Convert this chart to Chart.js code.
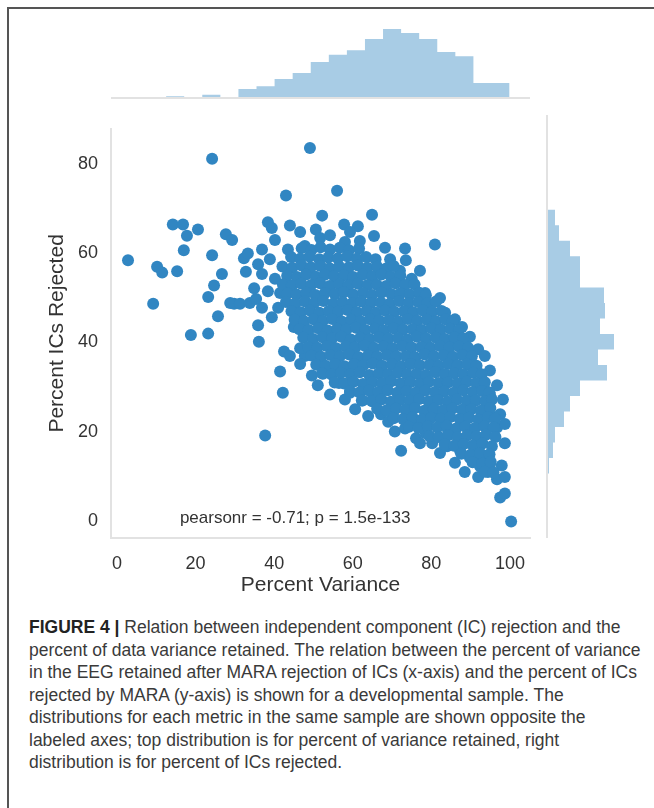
<!DOCTYPE html>
<html>
<head>
<meta charset="utf-8">
<script src="https://cdn.jsdelivr.net/npm/chart.js@4.4.1/dist/chart.umd.min.js"></script>
<style>
  html, body { margin: 0; padding: 0; background: #fff; }
  body { width: 654px; height: 808px; position: relative; overflow: hidden; font-family: 'Liberation Sans', Arial, sans-serif; }
  .frame { position: absolute; left: 7px; top: 7px; width: 660px; height: 820px; border-left: 2px solid #555; border-top: 2px solid #555; }
  canvas { position: absolute; }
  #caption { position: absolute; left: 29px; top: 616px; font-size: 17.5px; line-height: 22.5px; color: #3a3a3a; white-space: nowrap; }
  #caption b { color: #222; }
</style>
</head>
<body>
<div class="frame"></div>
<canvas id="topHist" width="419" height="85" style="left:111px;top:14px;width:419px;height:85px"></canvas>
<canvas id="scatter" width="545" height="500" style="left:0px;top:105px;width:545px;height:500px"></canvas>
<canvas id="rightHist" width="85" height="423" style="left:546px;top:115px;width:85px;height:423px"></canvas>
<div id="caption">
<b>FIGURE 4 |</b> Relation between independent component (IC) rejection and the<br>
percent of data variance retained. The relation between the percent of variance<br>
in the EEG retained after MARA rejection of ICs (x-axis) and the percent of ICs<br>
rejected by MARA (y-axis) is shown for a developmental sample. The<br>
distributions for each metric in the same sample are shown opposite the<br>
labeled axes; top distribution is for percent of variance retained, right<br>
distribution is for percent of ICs rejected.
</div>
<script>
// top histogram: percent variance retained (bin edges / heights)
const varianceEdges = [3.3, 7.9, 12.5, 17.1, 21.7, 26.3, 30.9, 35.5, 40.1, 44.7, 49.3,
  53.9, 58.5, 63.1, 67.7, 72.3, 76.9, 81.5, 86.1, 90.7, 95.3, 99.9];
const varianceCounts = [0.5, 1.3, 2.7, 1.0, 4.3, 2.0, 10, 12.7, 20, 26, 37,
  44.3, 48.7, 60, 70, 66, 60, 47, 42.7, 16, 16];

// right histogram: percent ICs rejected
const rejectedEdges = [0, 3.37, 6.74, 10.11, 13.48, 16.85, 20.22, 23.59, 26.96, 30.33,
  33.7, 37.07, 40.44, 43.81, 47.18, 50.55, 53.92, 57.29, 60.66, 64.03,
  67.4, 70.77, 74.14, 77.51, 80.88, 84.25];
const rejectedCounts = [0.6, 1, 1, 3, 7, 9, 18, 24, 34, 61,
  52, 68, 54, 59, 58, 34, 34, 24, 13, 9,
  0.8, 0.8, 0.5, 0.6, 0.8];

const xTicks = [0, 20, 40, 60, 80, 100];
const yTicks = [0, 20, 40, 60, 80];

// scattered points around the cloud
const outlierPoints = [
  [2.8,58.5],[9.2,48.7],[10.2,57],[11.5,55.7],[15.3,56],[14.2,66.5],[16.8,66.5],[17.8,64],
  [17,60.7],[20.6,65.4],[18.8,41.7],[23.2,42],[24.2,81.3],[24.2,59.6],[23.2,50.2],[24.7,52.8],
  [25.7,45.9],[26.7,55.4],[27.7,64.3],[29.3,63],[29.8,48.7],[28.8,48.9],[31.3,48.7],[32.3,58.9],
  [33.3,60],[33.8,48.9],[35.9,43.9],[36.1,40.2],[35.4,49.8],[34.9,52.2],[35.9,57.6],[36.9,60.9],
  [37.7,19.1],[38.4,67],[39.4,65.7],[40.2,63],[41.5,33.5],[42.2,28.7],[43,73],[42.5,38],
  [49.1,83.7],[50.6,65.4],[56,74.1],[57.8,66.5],[61.3,66.1],[64.9,68.7],[61.8,62.8],[65.4,63.9],
  [52.2,68.5],[73.3,61.1],[73.5,58.5],[80.9,62],[72.3,15.7],[75,22.2],[78.4,32.4],[81.2,24.1],
  [84.2,20.4],[86,40.9],[88.5,40],[91.9,38.5],[91.3,34.1],[93.4,29.8],[94.9,28.3],[95.7,23.3],
  [96.7,20.9],[98.7,17.4],[97.9,12.4],[96.7,9.3],[98.7,9.8],[97.5,5.2],[98.7,6.1],[100.3,-0.2],
  [94.9,12.6],[92.4,12.2],[89.8,14.1],[93.2,14.6],[87.3,15.7],[84,16.7],[80.2,17.4],[78.6,19.6],
  [76.1,18.5],[70.2,23.9],[67.2,23.9],[65.1,27.4],[62.3,27],[59.3,28.7],[56.5,30.9],[55,34.3],
  [52.4,33],[49.6,32.6],[47.8,37],[46.6,38.7],[45,43.5]
];

// edge of the dense cloud
const fringePoints = [
  [32.8,55.9],[36.9,55.4],[38.9,58.7],[38.4,51.5],[40.2,54.3],[41,47.8],[43.5,60.9],[41.5,51.1],
  [36.9,47.8],[39.4,45.7],[44,66.3],[46.6,64.8],[47.8,61.7],[51.7,63.5],[54.2,64.1],[58,62.6],
  [59.3,64.8],[68.2,61.3],[69.5,58.7],[72,56.1],[75,54.3],[77.1,56.1],[78.4,51.1],[82.2,50],
  [83.5,46.7],[86,45.2],[87.8,43.5],[89.8,41.3],[93.6,37],[94.9,33.7],[96.7,30.4],[98.2,27.2],
  [97.5,23.9],[98.7,21.7],[46.6,35.2],[44,37],[51.1,30.4],[54.2,28.3],[58,27.2],[60.6,25],
  [63.9,23.5],[69,22.2],[70.7,20],[73.3,20.7],[77.1,17.4],[82.2,15.2],[86,13],[88.5,10.9],
  [91.9,9.8],[94.4,10.9],[91.9,13]
];

// dense core, read row by row from the top
const corePoints = [
  [47.0,61.2],[49.5,60.8],[51.8,61.4],[54.2,60.9],[56.7,61.3],[59.0,60.7],[61.6,61.1],
  [44.3,59.2],[46.6,58.8],[49.0,59.3],[51.5,58.7],[53.8,59.1],[56.2,58.9],[58.6,59.4],[61.0,58.8],[63.4,59.2],[65.8,58.7],
  [42.1,57.1],[44.6,56.8],[47.0,57.3],[49.3,56.9],[51.8,57.2],[54.1,56.7],[56.5,57.1],[59.0,56.9],[61.3,57.3],[63.7,56.8],[66.2,57.0],[68.5,56.6],[70.4,57.2],
  [43.3,55.0],[45.8,54.7],[48.1,55.3],[50.6,54.8],[52.9,55.2],[55.3,54.9],[57.8,55.1],[60.1,54.7],[62.5,55.2],[64.9,54.9],[67.3,55.3],[69.7,54.8],[72.1,55.0],
  [42.2,53.1],[44.5,52.8],[46.9,53.2],[49.4,52.9],[51.7,53.3],[54.1,52.7],[56.6,53.1],[58.9,52.8],[61.3,53.2],[63.8,52.9],[66.1,53.0],[68.5,52.7],[70.9,53.3],[73.3,52.9],[75.7,53.1],
  [43.4,51.0],[45.7,50.8],[48.2,51.2],[50.5,50.7],[52.9,51.1],[55.4,50.9],[57.7,51.3],[60.1,50.8],[62.6,51.1],[64.9,50.7],[67.3,51.2],[69.8,50.9],[72.1,51.0],[74.5,50.8],[76.9,51.2],[78.6,50.6],
  [43.0,49.1],[45.4,48.8],[47.9,49.2],[50.2,48.9],[52.5,49.3],[55.0,48.7],[57.4,49.1],[59.9,48.8],[62.2,49.2],[64.6,48.9],[67.1,49.0],[69.4,48.7],[71.8,49.3],[74.2,48.9],[76.7,49.1],[79.0,48.8],[81.2,49.2],
  [44.4,47.0],[46.8,46.8],[49.1,47.2],[51.5,46.7],[53.9,47.1],[56.3,46.9],[58.7,47.3],[61.1,46.8],[63.5,47.1],[65.9,46.7],[68.2,47.2],[70.6,46.9],[73.0,47.0],[75.4,46.8],[77.8,47.2],[80.2,46.9],[82.6,47.1],
  [45.2,45.1],[47.6,44.8],[50.0,45.2],[52.4,44.9],[54.8,45.3],[57.2,44.7],[59.6,45.1],[62.0,44.8],[64.4,45.2],[66.8,44.9],[69.2,45.0],[71.6,44.7],[74.0,45.3],[76.4,44.9],[78.8,45.1],[81.2,44.8],[83.6,45.2],[85.4,44.9],
  [46.4,43.0],[48.8,42.8],[51.2,43.2],[53.6,42.7],[56.0,43.1],[58.4,42.9],[60.8,43.3],[63.2,42.8],[65.6,43.1],[68.0,42.7],[70.4,43.2],[72.8,42.9],[75.2,43.0],[77.6,42.8],[80.0,43.2],[82.4,42.9],[84.8,43.1],[87.0,42.8],
  [47.4,41.1],[49.9,40.8],[52.3,41.2],[54.7,40.9],[57.1,41.3],[59.5,40.7],[61.9,41.1],[64.3,40.8],[66.7,41.2],[69.1,40.9],[71.5,41.0],[73.9,40.7],[76.3,41.3],[78.7,40.9],[81.1,41.1],[83.5,40.8],[85.9,41.2],[88.1,40.9],
  [48.6,39.0],[51.0,38.8],[53.4,39.2],[55.8,38.7],[58.2,39.1],[60.6,38.9],[63.0,39.3],[65.4,38.8],[67.8,39.1],[70.2,38.7],[72.6,39.2],[75.0,38.9],[77.4,39.0],[79.8,38.8],[82.2,39.2],[84.6,38.9],[87.0,39.1],[89.4,38.8],
  [49.5,37.1],[51.9,36.8],[54.3,37.2],[56.7,36.9],[59.1,37.3],[61.5,36.7],[63.9,37.1],[66.3,36.8],[68.7,37.2],[71.1,36.9],[73.5,37.0],[75.9,36.7],[78.3,37.3],[80.7,36.9],[83.1,37.1],[85.5,36.8],[87.9,37.2],[90.3,36.9],
  [50.7,35.0],[53.1,34.8],[55.5,35.2],[57.9,34.7],[60.3,35.1],[62.7,34.9],[65.1,35.3],[67.5,34.8],[69.9,35.1],[72.3,34.7],[74.7,35.2],[77.1,34.9],[79.5,35.0],[81.9,34.8],[84.3,35.2],[86.7,34.9],[89.1,35.1],[91.5,34.8],
  [52.2,33.1],[54.6,32.8],[57.0,33.2],[59.4,32.9],[61.8,33.3],[64.2,32.7],[66.6,33.1],[69.0,32.8],[71.4,33.2],[73.8,32.9],[76.2,33.0],[78.6,32.7],[81.0,33.3],[83.4,32.9],[85.8,33.1],[88.2,32.8],[90.6,33.2],[92.8,32.9],
  [55.4,31.0],[57.8,30.8],[60.2,31.2],[62.6,30.7],[65.0,31.1],[67.4,30.9],[69.8,31.3],[72.2,30.8],[74.6,31.1],[77.0,30.7],[79.4,31.2],[81.8,30.9],[84.2,31.0],[86.6,30.8],[89.0,31.2],[91.4,30.9],[93.6,31.1],
  [59.3,29.1],[61.7,28.8],[64.1,29.2],[66.5,28.9],[68.9,29.3],[71.3,28.7],[73.7,29.1],[76.1,28.8],[78.5,29.2],[80.9,28.9],[83.3,29.0],[85.7,28.7],[88.1,29.3],[90.5,28.9],[92.9,29.1],[94.8,28.8],
  [62.5,27.0],[64.9,26.8],[67.3,27.2],[69.7,26.7],[72.1,27.1],[74.5,26.9],[76.9,27.3],[79.3,26.8],[81.7,27.1],[84.1,26.7],[86.5,27.2],[88.9,26.9],[91.3,27.0],[93.7,26.8],[95.4,27.2],
  [66.2,25.1],[68.6,24.8],[71.0,25.2],[73.4,24.9],[75.8,25.3],[78.2,24.7],[80.6,25.1],[83.0,24.8],[85.4,25.2],[87.8,24.9],[90.2,25.0],[92.6,24.7],[95.0,25.3],
  [70.4,23.0],[72.8,22.8],[75.2,23.2],[77.6,22.7],[80.0,23.1],[82.4,22.9],[84.8,23.3],[87.2,22.8],[89.6,23.1],[92.0,22.7],[94.4,23.2],[96.2,22.9],
  [74.3,21.1],[76.7,20.8],[79.1,21.2],[81.5,20.9],[83.9,21.3],[86.3,20.7],[88.7,21.1],[91.1,20.8],[93.5,21.2],[95.9,20.9],
  [79.5,19.0],[81.9,18.8],[84.3,19.2],[86.7,18.7],[89.1,19.1],[91.5,18.9],[93.9,19.3],[96.3,18.8],
  [83.4,17.1],[85.8,16.8],[88.2,17.2],[90.6,16.9],[93.0,17.3],[95.4,16.7],
  [87.6,15.0],[90.0,14.8],[92.4,15.2],[94.8,14.9],
  [90.5,13.1],[92.9,12.8],[95.1,13.2],
  [93.6,11.0],[95.8,10.8]
];

const annotation = 'pearsonr = -0.71; p = 1.5e-133';

const FONT = "'Liberation Sans', Arial, sans-serif";
const TEXT = '#333';
const DOT = '#3186c2';
const HIST = '#a8cce5';
const SPINE = '#e2e2e2';
const X_RANGE = [-1.53, 105.1];
const Y_RANGE = [-3.9, 88];

Chart.defaults.font.family = FONT;
Chart.defaults.color = TEXT;
Chart.defaults.animation = false;

// light spine for the marginal plots
const spinePlugin = {
  id: 'spine',
  afterDatasetsDraw(chart, args, opts) {
    const { ctx, chartArea: a } = chart;
    ctx.save();
    ctx.strokeStyle = SPINE;
    ctx.lineWidth = 2;
    ctx.beginPath();
    if (opts.side === 'bottom') {
      ctx.moveTo(a.left, a.bottom - 1);
      ctx.lineTo(a.right, a.bottom - 1);
    } else {
      ctx.moveTo(a.left + 1, a.top);
      ctx.lineTo(a.left + 1, a.bottom);
    }
    ctx.stroke();
    ctx.restore();
  }
};

// pearsonr text, placed in data units
const notePlugin = {
  id: 'note',
  afterDraw(chart, args, opts) {
    const { ctx, scales } = chart;
    ctx.save();
    ctx.font = '17px ' + FONT;
    ctx.fillStyle = TEXT;
    ctx.textAlign = 'left';
    ctx.textBaseline = 'middle';
    ctx.fillText(opts.text, scales.x.getPixelForValue(opts.x), scales.y.getPixelForValue(opts.y));
    ctx.restore();
  }
};

const hidden = { display: false, type: 'linear' };
const histStyle = { backgroundColor: HIST, borderColor: HIST, borderWidth: 0, pointRadius: 0, fill: 'origin' };

// histogram outline as step points: each edge carries the height of the bin that follows it
const topPts = varianceEdges.map((e, i) => ({ x: e, y: varianceCounts[Math.min(i, varianceCounts.length - 1)] }));
const rightPts = rejectedEdges.map((e, i) => ({ y: e, x: rejectedCounts[Math.min(i, rejectedCounts.length - 1)] }));

new Chart(document.getElementById('topHist'), {
  type: 'line',
  data: { datasets: [{ ...histStyle, data: topPts, stepped: 'before' }] },
  options: {
    responsive: false,
    layout: { padding: 0 },
    plugins: { legend: { display: false }, tooltip: { enabled: false }, spine: { side: 'bottom' } },
    scales: {
      x: { ...hidden, min: X_RANGE[0], max: X_RANGE[1] },
      y: { ...hidden, min: 0, max: 85 }
    }
  },
  plugins: [spinePlugin]
});

new Chart(document.getElementById('rightHist'), {
  type: 'line',
  data: { datasets: [{ ...histStyle, data: rightPts, stepped: 'after' }] },
  options: {
    indexAxis: 'y',
    responsive: false,
    layout: { padding: 0 },
    plugins: { legend: { display: false }, tooltip: { enabled: false }, spine: { side: 'left' } },
    scales: {
      x: { ...hidden, min: 0, max: 85 },
      y: { ...hidden, min: Y_RANGE[0], max: Y_RANGE[1] }
    }
  },
  plugins: [spinePlugin]
});

const allPoints = outlierPoints.concat(fringePoints, corePoints).map(p => ({ x: p[0], y: p[1] }));

new Chart(document.getElementById('scatter'), {
  type: 'scatter',
  data: {
    datasets: [{
      data: allPoints,
      backgroundColor: DOT,
      borderWidth: 0,
      pointRadius: 6,
      pointHoverRadius: 6
    }]
  },
  options: {
    responsive: false,
    layout: { padding: { top: 10, right: 15, left: 0, bottom: 0 } },
    plugins: {
      legend: { display: false },
      tooltip: { enabled: false },
      note: { text: annotation, x: 16, y: 0.6 }
    },
    scales: {
      x: {
        type: 'linear',
        min: X_RANGE[0], max: X_RANGE[1],
        afterBuildTicks: s => { s.ticks = xTicks.map(v => ({ value: v })); },
        afterFit: s => { s.height = 67; },
        ticks: { padding: 15, color: TEXT, font: { size: 18 } },
        grid: { display: false, drawTicks: false },
        border: { color: SPINE, width: 2 },
        title: { display: true, text: 'Percent Variance', color: TEXT, font: { size: 21 }, padding: { top: 0, bottom: 7 } }
      },
      y: {
        min: Y_RANGE[0], max: Y_RANGE[1],
        afterBuildTicks: s => { s.ticks = yTicks.map(v => ({ value: v })); },
        afterFit: s => { s.width = 111; },
        ticks: { padding: 13, color: TEXT, font: { size: 18 } },
        grid: { display: false, drawTicks: false },
        border: { color: SPINE, width: 2 },
        title: { display: true, text: 'Percent ICs Rejected', color: TEXT, font: { size: 21 }, padding: { top: 45, bottom: 0 } }
      }
    }
  },
  plugins: [notePlugin]
});
</script>
</body>
</html>
